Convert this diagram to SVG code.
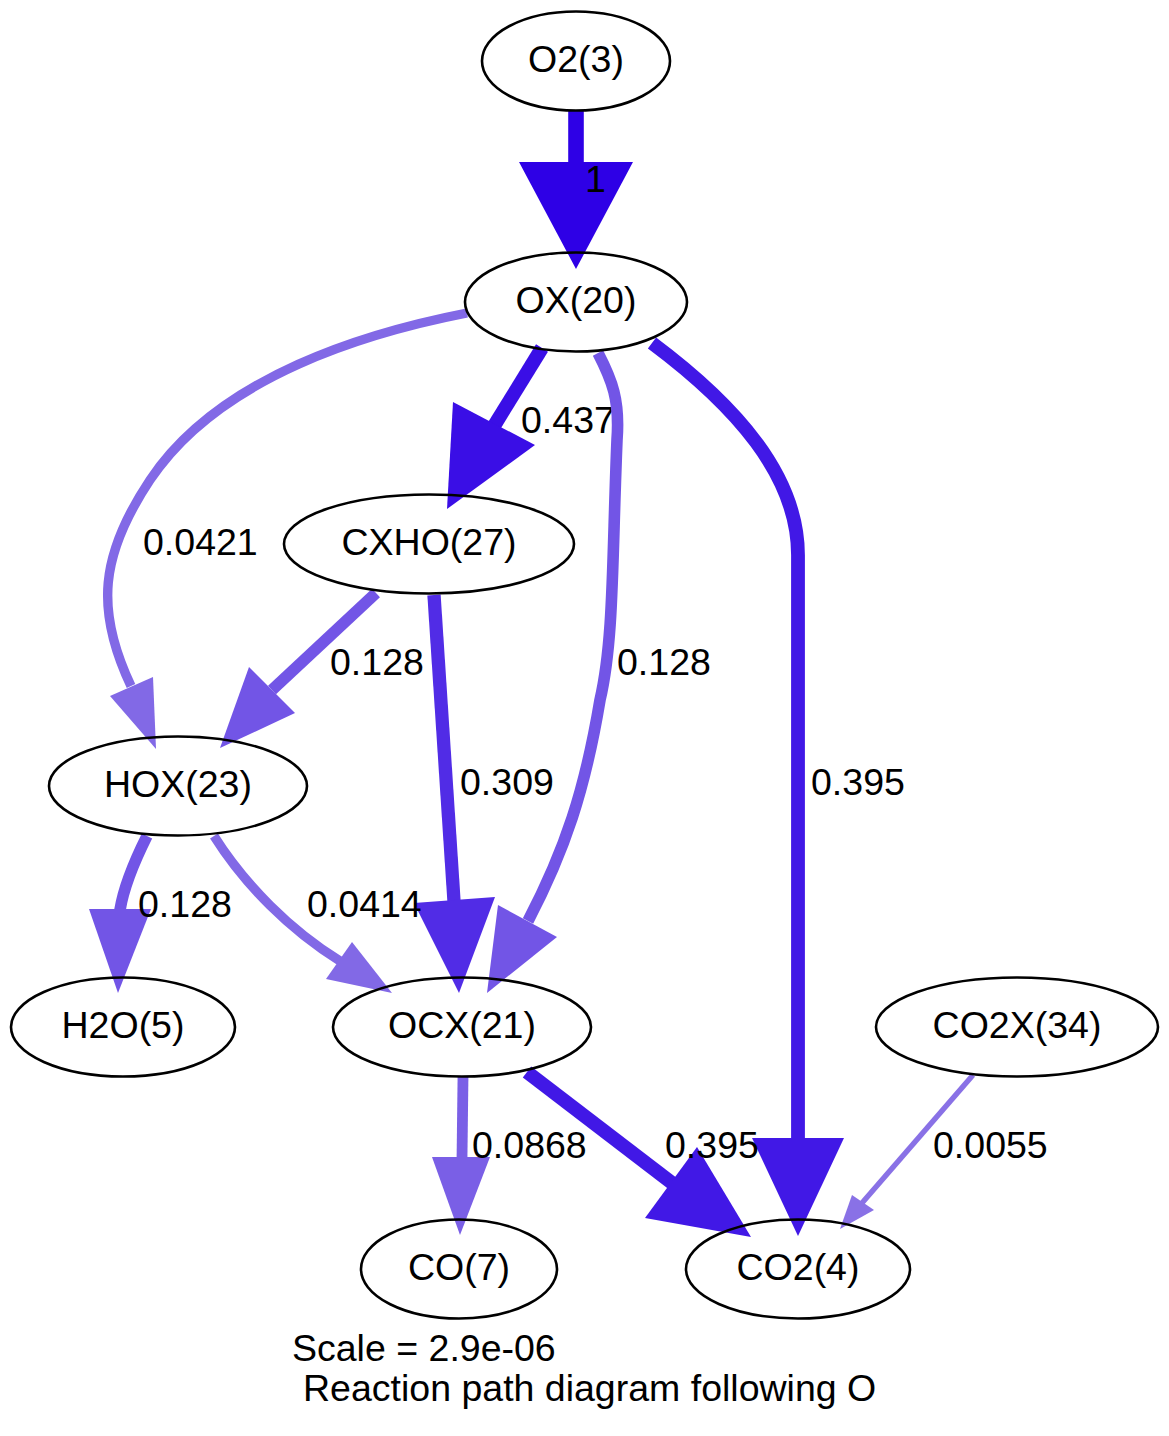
<svg xmlns="http://www.w3.org/2000/svg" width="1169" height="1436" viewBox="0 0 1169 1436">
<style>
  text { font-family: "Liberation Sans", Arial, sans-serif; font-size: 37.5px; fill: #000; }
  .node ellipse { fill: none; stroke: #000; stroke-width: 2.6; }
  .node text { text-anchor: middle; }
  .edge path { fill: none; stroke-linecap: butt; }
</style>
<rect x="0" y="0" width="1169" height="1436" fill="#fff"/>
<g id="connectors">
  <g class="edge" id="e_O2_OX">
    <path d="M576,110 L576,163" stroke="#2e00e6" stroke-width="15.6"/>
    <polygon points="519,162 633,162 576,269" fill="#2e00e6"/>
    <text x="585" y="192">1</text>
  </g>
  <g class="edge" id="e_OX_CXHO">
    <path d="M542,348 L494,426" stroke="#3a0ee6" stroke-width="14"/>
    <polygon points="453,402 535,445 447,509" fill="#3a0ee6"/>
    <text x="521" y="433">0.437</text>
  </g>
  <g class="edge" id="e_OX_HOX">
    <path d="M467,313 C370,332 220,375 150,480 C100,555 95,610 131,686" stroke="#8269e6" stroke-width="9.4"/>
    <polygon points="110,696 153,677 156,749" fill="#8269e6"/>
    <text x="143" y="555">0.0421</text>
  </g>
  <g class="edge" id="e_OX_OCX">
    <path d="M598,353 C612,380 620,400 617,440 C612,560 614,640 600,700 C585,790 565,850 528,921" stroke="#7255e6" stroke-width="11.6"/>
    <polygon points="498,905 557,937 487,993" fill="#7255e6"/>
    <text x="617" y="675">0.128</text>
  </g>
  <g class="edge" id="e_OX_CO2">
    <path d="M652,343 C735,405 798,475 798,555 L798,1139" stroke="#4118e6" stroke-width="13.8"/>
    <polygon points="752,1138 844,1138 798,1236" fill="#4118e6"/>
    <text x="811" y="795">0.395</text>
  </g>
  <g class="edge" id="e_CXHO_HOX">
    <path d="M376,593 L272,690" stroke="#7255e6" stroke-width="11.6"/>
    <polygon points="249,667 295,713 220,748" fill="#7255e6"/>
    <text x="330" y="675">0.128</text>
  </g>
  <g class="edge" id="e_CXHO_OCX">
    <path d="M434,595 L454,901" stroke="#512ce6" stroke-width="13.3"/>
    <polygon points="414,903 495,897 459,993" fill="#512ce6"/>
    <text x="460" y="795">0.309</text>
  </g>
  <g class="edge" id="e_HOX_H2O">
    <path d="M147,836 C135,860 124,885 120,910" stroke="#7255e6" stroke-width="11.6"/>
    <polygon points="89,909 151,909 118,993" fill="#7255e6"/>
    <text x="138" y="917">0.128</text>
  </g>
  <g class="edge" id="e_HOX_OCX">
    <path d="M214,836 C245,885 290,930 340,961" stroke="#8269e6" stroke-width="9.4"/>
    <polygon points="352,942 326,979 392,993" fill="#8269e6"/>
    <text x="307" y="917">0.0414</text>
  </g>
  <g class="edge" id="e_OCX_CO">
    <path d="M463,1077 L462,1158" stroke="#7a5fe6" stroke-width="10.8"/>
    <polygon points="432,1157 490,1157 460,1235" fill="#7a5fe6"/>
    <text x="472" y="1158">0.0868</text>
  </g>
  <g class="edge" id="e_OCX_CO2">
    <path d="M527,1072 L672,1183" stroke="#4118e6" stroke-width="13.8"/>
    <polygon points="645,1218 697,1147 751,1237" fill="#4118e6"/>
    <text x="665" y="1158">0.395</text>
  </g>
  <g class="edge" id="e_CO2X_CO2">
    <path d="M973,1075 L862,1203" stroke="#8971e6" stroke-width="5.4"/>
    <polygon points="852,1195 874,1210 840,1229" fill="#8971e6"/>
    <text x="933" y="1158">0.0055</text>
  </g>
</g>
<g id="n_O2" class="node"><ellipse cx="576" cy="61" rx="94" ry="49.5"/><text x="576" y="72">O2(3)</text></g>
<g id="n_OX" class="node"><ellipse cx="576" cy="302" rx="111" ry="49.5"/><text x="576" y="313">OX(20)</text></g>
<g id="n_CXHO" class="node"><ellipse cx="429" cy="544" rx="145" ry="49.5"/><text x="429" y="555">CXHO(27)</text></g>
<g id="n_HOX" class="node"><ellipse cx="178" cy="786" rx="129" ry="49.5"/><text x="178" y="797">HOX(23)</text></g>
<g id="n_H2O" class="node"><ellipse cx="123" cy="1027" rx="112" ry="49.5"/><text x="123" y="1038">H2O(5)</text></g>
<g id="n_OCX" class="node"><ellipse cx="462" cy="1027" rx="129" ry="49.5"/><text x="462" y="1038">OCX(21)</text></g>
<g id="n_CO2X" class="node"><ellipse cx="1017" cy="1027" rx="141" ry="49.5"/><text x="1017" y="1038">CO2X(34)</text></g>
<g id="n_CO" class="node"><ellipse cx="459" cy="1269" rx="98" ry="49.5"/><text x="459" y="1280">CO(7)</text></g>
<g id="n_CO2" class="node"><ellipse cx="798" cy="1269" rx="112" ry="49.5"/><text x="798" y="1280">CO2(4)</text></g>
<g id="title">
  <text x="292" y="1361">Scale = 2.9e-06</text>
  <text x="303" y="1401">Reaction path diagram following O</text>
</g>
</svg>
